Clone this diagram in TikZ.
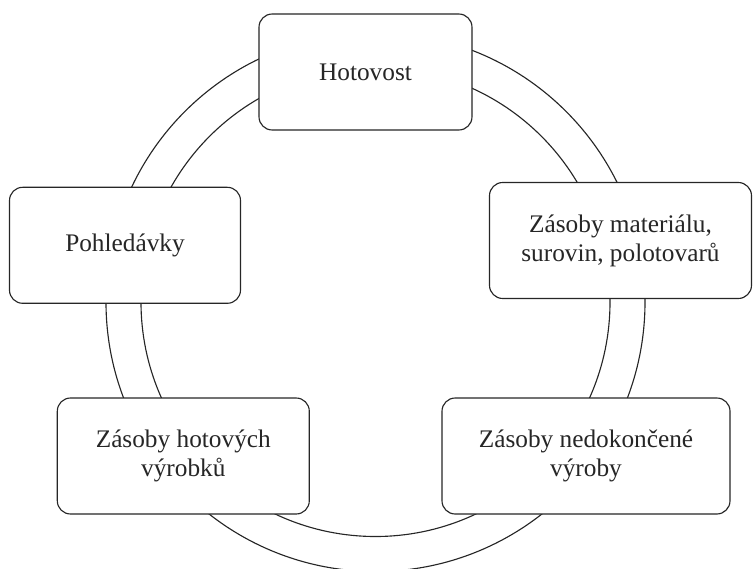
\documentclass[tikz,border=0pt]{standalone}
\usepackage{fontspec}
\setmainfont{Liberation Serif}
\usepackage{tikz}

\begin{document}
\begin{tikzpicture}[
		box/.style={draw=black!85, line width=0.8pt, fill=white, rounded corners=0.33cm,
			minimum height=2.9cm, inner sep=0pt, align=center,
			font=\fontsize{18}{20.6}\selectfont, text=black!85},
		ring/.style={draw=black!85, line width=0.8pt}
	]
				\useasboundingbox (-9.3875,-6.65) rectangle (9.4375,7.55);
				\coordinate (O) at (0,0);
				% Kreislauf
				\draw[ring] (O) circle (6.7375);
				\draw[ring] (O) circle (5.8625);
				% Stationen
				\node[box, minimum width=5.325cm] (hot) at (-0.25,5.75){Hotovost};
				\node[box, minimum width=6.55cm] (mat) at (6.125,1.5375){Zásoby materiálu,\\surovin, polotovarů};
				\node[box, minimum width=7.2cm] (ned) at (5.2625,-3.85){Zásoby nedokončené\\výroby};
				\node[box, minimum width=6.3cm] (vyr) at (-4.805,-3.85){Zásoby hotových\\výrobků};
				\node[box, minimum width=5.775cm] (poh) at (-6.2625,1.4175){Pohledávky};
\end{tikzpicture}
\end{document}
